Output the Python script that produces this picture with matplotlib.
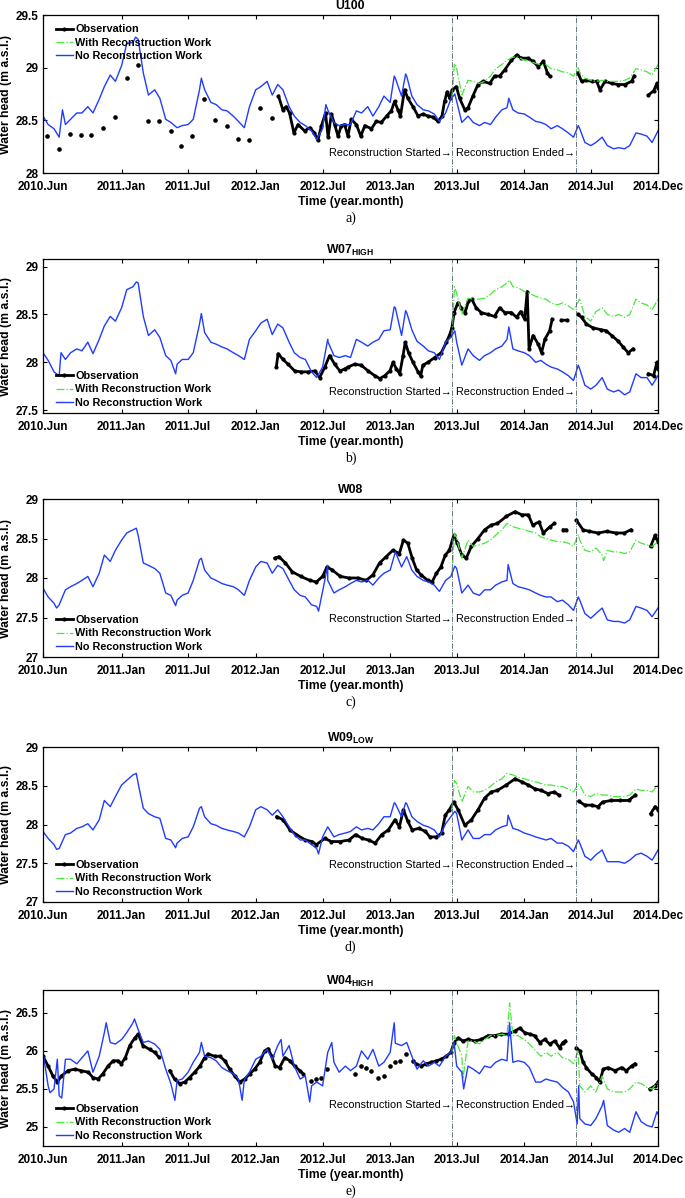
import numpy as np
import pandas as pd
import matplotlib
matplotlib.use("Agg")
import matplotlib.pyplot as plt
from matplotlib.ticker import FormatStrFormatter

plt.rcParams['font.family'] = ['Liberation Sans', 'DejaVu Sans']
plt.rcParams['mathtext.fontset'] = 'custom'
plt.rcParams['mathtext.rm'] = 'Liberation Sans'
plt.rcParams['mathtext.bf'] = 'Liberation Sans:bold'

# ---- time axis ----
t0 = pd.Timestamp("2010-06-01")
grid = pd.date_range("2010-06-01", "2014-12-15", freq="SMS").append(pd.DatetimeIndex(["2014-12-31"]))
green_grid = (pd.DatetimeIndex(["2013-06-18", "2013-06-25"])
              .append(pd.date_range("2013-07-01", "2014-12-15", freq="SMS"))
              .append(pd.DatetimeIndex(["2014-12-31"])))
recon_start = pd.Timestamp("2013-06-18")
recon_end = pd.Timestamp("2014-05-22")
tick_dates = pd.to_datetime(["2010-06-01", "2011-01-01", "2011-07-01", "2012-01-01", "2012-07-01",
                             "2013-01-01", "2013-07-01", "2014-01-01", "2014-07-01", "2014-12-31"])
tick_labels = ["2010.Jun", "2011.Jan", "2011.Jul", "2012.Jan", "2012.Jul",
               "2013.Jan", "2013.Jul", "2014.Jan", "2014.Jul", "2014.Dec"]

# ---- U100 ----
u100_noRW = [28.54, 28.46, 28.42, 28.34, 28.46, 28.51, 28.57, 28.57, 28.63, 28.57, 28.70, 28.82, 28.93, 28.87,
             29.02, 29.23, 29.24, 29.27, 28.95, 28.74, 28.79, 28.71, 28.51, 28.48, 28.43, 28.45, 28.46, 28.51,
             28.79, 28.79, 28.67, 28.65, 28.60, 28.59, 28.54, 28.49, 28.43, 28.63,
             28.79, 28.82, 28.87, 28.74, 28.84, 28.79, 28.63, 28.54, 28.48, 28.45, 28.40, 28.32, 28.42, 28.60,
             28.48, 28.45, 28.46, 28.46, 28.59, 28.57, 28.63, 28.54, 28.63, 28.73,
             28.67, 28.90, 28.73, 28.92, 28.73, 28.65, 28.60, 28.59, 28.56, 28.49, 28.57, 28.70, 28.68, 28.48,
             28.54, 28.48, 28.45, 28.48, 28.46, 28.53, 28.60, 28.62, 28.60, 28.57,
             28.56, 28.53, 28.49, 28.48, 28.46, 28.42, 28.45, 28.42, 28.38, 28.34, 28.42, 28.29, 28.26, 28.29,
             28.34, 28.26, 28.23, 28.24, 28.23, 28.26, 28.38, 28.37, 28.35, 28.29, 28.40]
u100_noRW_spikes = {"2010-07-24": 28.60, "2011-02-08": 29.29, "2011-08-06": 28.90, "2012-07-10": 28.65,
                    "2013-01-12": 28.92, "2013-02-12": 28.94, "2013-06-26": 28.75, "2013-11-20": 28.71,
                    "2014-05-28": 28.45}
u100_RW = [28.71, 29.04, 28.99, 28.74, 28.88, 28.87, 28.85, 28.87, 28.92, 28.99, 29.03, 29.07, 29.10, 29.10,
           29.07, 29.06, 29.04, 29.03, 29.03, 28.99, 28.98, 28.96, 28.95, 28.92, 28.95, 28.90, 28.88, 28.87,
           28.88, 28.87, 28.87, 28.87, 28.88, 28.90, 28.99, 28.98, 28.96, 28.93, 29.03]
u100_RW_spikes = {"2014-05-28": 29.00}
u100_obs_day = [641, 653, 662, 671, 683, 694, 712, 726, 739, 748, 758, 769, 776, 785, 794, 803, 812, 821, 830,
                839, 853, 865, 876, 894, 907, 921, 935, 948, 957, 966, 973, 984, 993, 1007, 1021, 1034, 1048,
                1062, 1075, 1086, 1093, 1100, 1107, 1114, 1125, 1134, 1148, 1157, 1170, 1184, 1198, 1216, 1229,
                1243, 1257, 1275, 1289, 1302, 1320, 1334, 1348, 1362, 1373, 1379, 1400,
                1456, 1466, 1479, 1493, 1507, 1516, 1530, 1548, 1566, 1584, 1602, 1609, 1630,
                1648, 1662, 1671, 1674]
u100_obs = [28.73, 28.60, 28.63, 28.57, 28.38, 28.46, 28.40, 28.43, 28.38, 28.31, 28.45, 28.57, 28.34, 28.56,
            28.46, 28.35, 28.45, 28.46, 28.35, 28.51, 28.46, 28.35, 28.45, 28.42, 28.49, 28.48, 28.54, 28.59,
            28.68, 28.60, 28.54, 28.79, 28.71, 28.63, 28.54, 28.56, 28.54, 28.53, 28.49, 28.54, 28.68, 28.77,
            28.71, 28.79, 28.82, 28.71, 28.60, 28.62, 28.73, 28.84, 28.87, 28.85, 28.92, 28.92, 28.98, 29.07,
            29.12, 29.09, 29.09, 29.06, 29.01, 29.06, 28.95, 28.92, np.nan,
            28.95, 28.87, 28.88, 28.87, 28.87, 28.79, 28.87, 28.85, 28.84, 28.84, 28.87, 28.92, np.nan,
            28.74, 28.78, 28.85, 28.81]
u100_dot_day = [11, 43, 73, 103, 131, 164, 195, 228, 259, 285, 315, 348, 376, 406, 438, 469, 502, 531, 560,
                592, 623]
u100_dot = [28.35, 28.23, 28.37, 28.36, 28.36, 28.43, 28.53, 28.90, 29.03, 28.49, 28.49, 28.40, 28.26, 28.35,
            28.70, 28.50, 28.45, 28.32, 28.31, 28.62, 28.52]

# ---- W07 HIGH ----
w07_noRW = [28.10, 28.02, 27.90, 27.86, 28.03, 28.10, 28.14, 28.12, 28.21, 28.09, 28.24, 28.38, 28.48, 28.43,
            28.57, 28.76, 28.79, 28.83, 28.48, 28.28, 28.34, 28.26, 28.07, 28.02, 27.98, 28.03, 28.03, 28.10,
            28.40, 28.31, 28.21, 28.19, 28.16, 28.14, 28.10, 28.07, 28.03, 28.24,
            28.33, 28.41, 28.45, 28.29, 28.40, 28.36, 28.21, 28.10, 28.05, 28.03, 27.90, 27.84, 27.95, 28.22,
            28.07, 28.05, 28.07, 28.05, 28.24, 28.21, 28.17, 28.21, 28.24, 28.33,
            28.34, 28.57, 28.28, 28.52, 28.34, 28.22, 28.17, 28.12, 28.10, 28.03, 28.21, 28.26, 28.21, 27.97,
            28.14, 28.07, 28.02, 28.07, 28.10, 28.14, 28.17, 28.24, 28.14, 28.12,
            28.10, 28.07, 28.00, 28.02, 27.98, 27.95, 27.93, 27.90, 27.86, 27.81, 27.93, 27.76, 27.72, 27.76,
            27.84, 27.72, 27.69, 27.71, 27.66, 27.69, 27.88, 27.84, 27.84, 27.76, 27.86]
w07_noRW_spikes = {"2010-07-20": 28.10, "2011-02-10": 28.84, "2011-05-28": 27.88, "2011-08-06": 28.51,
                   "2012-07-15": 28.24, "2013-01-12": 28.58, "2013-02-12": 28.54, "2013-06-26": 28.33,
                   "2013-11-20": 28.37, "2014-05-28": 27.97}
w07_RW = [28.26, 28.79, 28.72, 28.50, 28.67, 28.66, 28.66, 28.67, 28.71, 28.76, 28.79, 28.83, 28.79, 28.78,
          28.74, 28.72, 28.69, 28.67, 28.66, 28.62, 28.60, 28.62, 28.59, 28.55, 28.66, 28.48, 28.43, 28.53,
          28.57, 28.50, 28.48, 28.50, 28.47, 28.50, 28.66, 28.62, 28.60, 28.55, 28.66]
w07_RW_spikes = {"2013-11-22": 28.86}
w07_obs_day = [635, 640, 653, 667, 685, 703, 721, 740, 753, 767, 780, 794, 808, 821, 830, 848, 866, 885, 903,
               917, 930, 944, 953, 962, 971, 980, 986, 995, 1007, 1021, 1028, 1034, 1048, 1066, 1084, 1098,
               1107, 1113, 1119, 1129, 1139, 1149, 1158, 1167, 1179, 1193, 1211, 1229, 1243, 1257, 1275, 1289,
               1300, 1311, 1318, 1323, 1334, 1348, 1357, 1366, 1379, 1386, 1398, 1411, 1425, 1440,
               1456, 1466, 1479, 1497, 1520, 1533, 1548, 1566, 1579, 1593, 1606, 1630, 1648, 1662, 1671, 1674]
w07_obs = [27.95, 28.09, 28.03, 27.98, 27.91, 27.90, 27.90, 27.91, 27.84, 27.95, 28.07, 27.98, 27.91, 27.93,
           27.95, 27.98, 27.97, 27.91, 27.86, 27.83, 27.86, 27.91, 28.00, 27.93, 27.88, 28.07, 28.21, 28.10,
           28.00, 27.90, 27.86, 27.97, 28.00, 28.05, 28.10, 28.21, 28.29, 28.36, 28.52, 28.62, 28.57, 28.52,
           28.64, 28.66, 28.57, 28.52, 28.50, 28.48, 28.57, 28.52, 28.52, 28.47, 28.53, 28.45, 28.74, 28.14,
           28.28, 28.19, 28.10, 28.24, 28.33, 28.45, np.nan, 28.44, 28.44, np.nan,
           28.50, 28.47, 28.40, 28.36, 28.34, 28.33, 28.28, 28.22, 28.16, 28.10, 28.14, np.nan,
           27.88, 27.86, 28.00, 27.93]

# ---- W08 ----
w08_noRW = [27.87, 27.76, 27.68, 27.66, 27.85, 27.89, 27.93, 27.97, 28.02, 27.89, 28.06, 28.29, 28.21, 28.35,
            28.48, 28.57, 28.61, 28.54, 28.19, 28.16, 28.12, 28.06, 27.81, 27.78, 27.72, 27.78, 27.81, 27.97,
            28.23, 28.10, 28.00, 27.97, 27.93, 27.91, 27.89, 27.85, 27.78, 27.97,
            28.14, 28.21, 28.19, 28.06, 28.16, 28.12, 27.97, 27.85, 27.78, 27.76, 27.66, 27.64, 27.83, 27.97,
            27.81, 27.85, 27.89, 27.93, 27.97, 27.95, 27.97, 27.91, 28.00, 28.06,
            28.10, 28.33, 28.14, 28.27, 28.10, 28.02, 27.97, 27.95, 27.91, 27.83, 27.97, 28.02, 28.12, 27.81,
            27.91, 27.81, 27.78, 27.85, 27.85, 27.91, 27.95, 27.97, 27.93, 27.89,
            27.87, 27.85, 27.81, 27.78, 27.76, 27.76, 27.70, 27.72, 27.66, 27.59, 27.72, 27.55, 27.49, 27.55,
            27.62, 27.47, 27.45, 27.45, 27.43, 27.47, 27.64, 27.62, 27.59, 27.51, 27.62]
w08_noRW_spikes = {"2010-07-08": 27.62, "2011-02-10": 28.63, "2011-05-28": 27.65, "2011-08-06": 28.25,
                   "2012-06-20": 27.58, "2012-07-15": 28.16, "2013-06-26": 28.15, "2013-11-18": 28.17,
                   "2014-05-28": 27.76}
w08_RW = [28.02, 28.57, 28.50, 28.25, 28.48, 28.40, 28.42, 28.44, 28.48, 28.54, 28.61, 28.69, 28.65, 28.63,
          28.61, 28.59, 28.57, 28.52, 28.50, 28.48, 28.46, 28.46, 28.44, 28.40, 28.48, 28.35, 28.33, 28.38,
          28.29, 28.35, 28.33, 28.33, 28.31, 28.33, 28.48, 28.44, 28.42, 28.40, 28.46]
w08_RW_spikes = {"2014-05-28": 28.55, "2014-08-05": 28.22}
w08_obs_day = [631, 642, 660, 678, 702, 726, 744, 761, 773, 788, 809, 833, 857, 880, 898, 916, 934, 952, 970,
               981, 993, 1005, 1017, 1029, 1047, 1059, 1071, 1083, 1095, 1106, 1118, 1128, 1140, 1152, 1166,
               1184, 1202, 1220, 1237, 1261, 1285, 1303, 1321, 1333, 1350, 1362, 1380, 1392, 1404, 1416, 1424,
               1438, 1452, 1470, 1487, 1511, 1535, 1559, 1582, 1600, 1625, 1654, 1666, 1674]
w08_obs = [28.25, 28.27, 28.19, 28.08, 28.02, 27.97, 27.95, 28.02, 28.14, 28.10, 28.02, 28.00, 28.00, 27.97,
           28.04, 28.19, 28.27, 28.35, 28.31, 28.48, 28.44, 28.25, 28.10, 28.04, 27.97, 27.95, 28.06, 28.14,
           28.29, 28.35, 28.54, 28.44, 28.29, 28.25, 28.40, 28.50, 28.61, 28.67, 28.69, 28.78, 28.84, 28.80,
           28.80, 28.67, 28.71, 28.57, 28.65, 28.69, np.nan, 28.61, 28.61, np.nan,
           28.73, 28.61, 28.59, 28.57, 28.59, 28.57, 28.57, 28.61, np.nan, 28.40, 28.54, 28.46]

# ---- W09 LOW ----
w09_noRW = [27.91, 27.82, 27.74, 27.69, 27.87, 27.89, 27.95, 27.97, 28.01, 27.93, 28.06, 28.31, 28.23, 28.36,
            28.51, 28.57, 28.64, 28.53, 28.21, 28.14, 28.10, 28.08, 27.82, 27.80, 27.76, 27.82, 27.84, 27.97,
            28.21, 28.10, 28.01, 27.99, 27.95, 27.93, 27.91, 27.89, 27.84, 27.97,
            28.19, 28.23, 28.19, 28.12, 28.19, 28.10, 27.97, 27.87, 27.80, 27.80, 27.74, 27.69, 27.84, 27.97,
            27.84, 27.87, 27.89, 27.91, 27.97, 27.93, 27.95, 27.93, 28.01, 28.10,
            28.10, 28.27, 28.10, 28.27, 28.10, 28.04, 27.99, 27.97, 27.93, 27.84, 28.01, 28.10, 28.14, 27.80,
            27.93, 27.82, 27.82, 27.87, 27.87, 27.93, 27.97, 27.99, 27.95, 27.93,
            27.89, 27.87, 27.84, 27.82, 27.80, 27.82, 27.76, 27.76, 27.72, 27.65, 27.76, 27.59, 27.54, 27.61,
            27.67, 27.52, 27.52, 27.52, 27.50, 27.54, 27.61, 27.63, 27.59, 27.54, 27.67]
w09_noRW_spikes = {"2010-07-08": 27.68, "2011-02-10": 28.66, "2011-05-28": 27.70, "2011-08-06": 28.23,
                   "2012-06-20": 27.62, "2013-01-12": 28.28, "2013-02-12": 28.28, "2013-06-26": 28.17,
                   "2013-11-18": 28.12, "2014-05-28": 27.80}
w09_RW = [28.19, 28.57, 28.53, 28.29, 28.49, 28.42, 28.42, 28.44, 28.49, 28.55, 28.59, 28.66, 28.64, 28.61,
          28.59, 28.57, 28.55, 28.53, 28.51, 28.51, 28.49, 28.49, 28.46, 28.42, 28.51, 28.38, 28.36, 28.40,
          28.38, 28.38, 28.36, 28.36, 28.36, 28.38, 28.46, 28.44, 28.44, 28.42, 28.51]
w09_RW_spikes = {"2014-05-28": 28.52}
w09_obs_day = [636, 654, 672, 690, 714, 732, 744, 767, 785, 809, 833, 851, 869, 886, 904, 922, 940, 958, 970,
               981, 993, 1005, 1023, 1041, 1053, 1071, 1085, 1095, 1106, 1118, 1130, 1148, 1166, 1184, 1202,
               1220, 1237, 1261, 1285, 1303, 1321, 1339, 1356, 1374, 1392, 1404, 1430,
               1458, 1475, 1493, 1511, 1523, 1547, 1571, 1594, 1612, 1630, 1654, 1666, 1674]
w09_obs = [28.10, 28.06, 27.93, 27.87, 27.80, 27.78, 27.74, 27.82, 27.78, 27.78, 27.80, 27.87, 27.82, 27.80,
           27.76, 27.87, 27.93, 28.06, 27.97, 28.19, 28.04, 27.93, 27.95, 27.91, 27.84, 27.84, 27.89, 28.12,
           28.19, 28.29, 28.19, 27.99, 28.06, 28.19, 28.34, 28.42, 28.44, 28.51, 28.59, 28.55, 28.51, 28.46,
           28.44, 28.40, 28.42, 28.38, np.nan,
           28.30, 28.25, 28.25, 28.23, 28.29, 28.31, 28.31, 28.31, 28.38, np.nan, 28.14, 28.23, 28.19]

# ---- W04 HIGH ----
w04_noRW = [25.98, 25.54, 25.50, 25.41, 25.89, 25.89, 25.83, 25.91, 26.00, 25.72, 25.93, 26.24, 26.11, 26.09,
            26.15, 26.24, 26.37, 26.28, 26.11, 26.13, 26.09, 26.02, 25.76, 25.57, 25.61, 25.63, 25.72, 25.85,
            25.98, 25.93, 25.91, 25.87, 25.78, 25.74, 25.70, 25.63, 25.62, 25.72,
            25.89, 25.93, 26.02, 25.89, 26.07, 25.93, 26.07, 25.80, 25.63, 25.67, 25.54, 25.59, 25.54, 25.98,
            25.85, 25.72, 25.80, 25.74, 25.80, 26.00, 25.89, 26.02, 25.80, 25.85,
            25.98, 26.10, 26.07, 26.11, 25.93, 25.76, 25.87, 25.80, 25.85, 25.80, 25.93, 25.98, 25.80, 25.72,
            25.80, 25.76, 25.70, 25.80, 25.78, 25.85, 25.89, 25.87, 25.85, 25.87,
            25.85, 25.78, 25.59, 25.59, 25.63, 25.61, 25.59, 25.52, 25.46, 25.33, 25.11, 25.04, 25.02, 25.11,
            25.28, 25.02, 24.96, 24.93, 24.98, 24.93, 25.20, 25.07, 25.02, 25.00, 25.17]
w04_noRW_spikes = {"2010-06-20": 25.45, "2010-07-10": 25.89, "2010-07-22": 25.38, "2010-11-20": 26.37,
                   "2011-02-05": 26.42, "2011-05-26": 25.35, "2011-08-06": 26.11, "2011-11-25": 25.35,
                   "2012-03-10": 26.15, "2012-05-27": 25.33, "2012-07-26": 26.11, "2013-01-12": 26.37,
                   "2013-06-24": 26.11, "2013-07-20": 25.50, "2013-11-22": 26.37, "2014-05-25": 25.04,
                   "2014-05-29": 25.54, "2014-08-05": 25.35, "2014-12-28": 25.20}
w04_RW = [25.98, 26.20, 26.11, 25.93, 26.13, 26.13, 26.09, 26.15, 26.20, 26.20, 26.22, 26.20, 26.20, 26.20,
          26.15, 26.09, 26.00, 25.93, 25.98, 25.93, 25.98, 25.91, 25.89, 25.83, 25.54, 25.46, 25.54, 25.46,
          25.67, 25.50, 25.46, 25.46, 25.46, 25.50, 25.59, 25.57, 25.52, 25.50, 25.59]
w04_RW_spikes = {"2013-07-18": 25.63, "2013-11-22": 26.63, "2014-05-27": 26.00}
w04_obs_day = [0, 14, 27, 39, 50, 68, 86, 104, 123, 136, 150, 163, 177, 191, 204, 213, 224, 236, 250, 259, 272,
               290, 304, 315, 330, 345, 358, 372, 386, 399, 413, 427, 440, 449, 467, 481, 495, 508, 522, 535,
               549, 563, 576, 590, 603, 613, 622, 632, 644, 658, 672, 685, 699, 708, 718,
               1016, 1030, 1043, 1057, 1071, 1084, 1098, 1110, 1119, 1130, 1143, 1157, 1175, 1193, 1211, 1229,
               1247, 1266, 1284, 1298, 1311, 1325, 1338, 1352, 1366, 1379, 1393, 1406, 1415, 1422, 1440,
               1452, 1461, 1470, 1479, 1493, 1506, 1515, 1525, 1538, 1557, 1575, 1588, 1602, 1611, 1630,
               1652, 1666, 1674]
w04_obs = [25.93, 25.80, 25.67, 25.59, 25.67, 25.74, 25.76, 25.74, 25.72, 25.65, 25.63, 25.70, 25.80, 25.87,
           25.87, 25.83, 25.91, 26.07, 26.17, 26.22, 26.07, 26.02, 25.98, 25.92, np.nan,
           25.74, 25.63, 25.57, 25.59, 25.65, 25.72, 25.80, 25.91, 25.96, 25.93, 25.93, 25.87, 25.76, 25.67,
           25.59, 25.63, 25.70, 25.76, 25.85, 26.00, 26.03, 25.93, 25.80, 25.78, 25.91, 25.87, 25.80, 25.74,
           25.70, np.nan,
           25.83, 25.80, 25.83, 25.85, 25.87, 25.89, 25.93, 25.98, 26.11, 26.17, 26.13, 26.15, 26.13, 26.15,
           26.20, 26.20, 26.22, 26.22, 26.26, 26.30, 26.24, 26.22, 26.20, 26.11, 26.15, 26.09, 26.13, 26.04,
           26.11, 26.13, np.nan,
           26.04, 26.00, 25.85, 25.78, 25.70, 25.65, 25.59, 25.76, 25.78, 25.74, 25.78, 25.74, 25.80, 25.83,
           np.nan, 25.50, 25.54, 25.59]
w04_dot_day = [730, 744, 758, 774, 848, 866, 880, 894, 912, 928, 944, 957, 971, 989, 1007]
w04_dot = [25.61, 25.63, 25.65, 25.76, 25.70, 25.80, 25.77, 25.74, 25.65, 25.67, 25.80, 25.85, 25.87, 25.96,
           25.87]

panels = [
    dict(title="U100", noRW=u100_noRW, noRW_sp=u100_noRW_spikes, RW=u100_RW, RW_sp=u100_RW_spikes,
         obs_day=u100_obs_day, obs=u100_obs, dot_day=u100_dot_day, dot=u100_dot,
         ylim=(28, 29.5), yticks=[28, 28.5, 29, 29.5], leg="upper left", txt_y=0.125, letter="a)",
         top=15, bottom=173),
    dict(title=r"W07$_{\mathbf{HIGH}}$", noRW=w07_noRW, noRW_sp=w07_noRW_spikes, RW=w07_RW, RW_sp=w07_RW_spikes,
         obs_day=w07_obs_day, obs=w07_obs, dot_day=[], dot=[],
         ylim=(27.47, 29.08), yticks=[27.5, 28, 28.5, 29], leg="lower left", txt_y=0.135, letter="b)",
         top=259, bottom=413),
    dict(title="W08", noRW=w08_noRW, noRW_sp=w08_noRW_spikes, RW=w08_RW, RW_sp=w08_RW_spikes,
         obs_day=w08_obs_day, obs=w08_obs, dot_day=[], dot=[],
         ylim=(27, 29), yticks=[27, 27.5, 28, 28.5, 29], leg="lower left", txt_y=0.24, letter="c)",
         top=499, bottom=657),
    dict(title=r"W09$_{\mathbf{LOW}}$", noRW=w09_noRW, noRW_sp=w09_noRW_spikes, RW=w09_RW, RW_sp=w09_RW_spikes,
         obs_day=w09_obs_day, obs=w09_obs, dot_day=[], dot=[],
         ylim=(27, 29), yticks=[27, 27.5, 28, 28.5, 29], leg="lower left", txt_y=0.24, letter="d)",
         top=747, bottom=902),
    dict(title=r"W04$_{\mathbf{HIGH}}$", noRW=w04_noRW, noRW_sp=w04_noRW_spikes, RW=w04_RW, RW_sp=w04_RW_spikes,
         obs_day=w04_obs_day, obs=w04_obs, dot_day=w04_dot_day, dot=w04_dot,
         ylim=(24.75, 26.8), yticks=[25, 25.5, 26, 26.5], leg="lower left", txt_y=0.26, letter="e)",
         top=990, bottom=1146),
]

BLUE = "#1f3cff"
GREEN = "#46e83a"


def with_spikes(index, values, spikes):
    s = pd.Series(values, index=index)
    if spikes:
        extra = pd.Series(list(spikes.values()), index=pd.to_datetime(list(spikes.keys())))
        s = pd.concat([s, extra]).sort_index()
    return s


W, H = 685, 1198
fig = plt.figure(figsize=(W / 100, H / 100), dpi=100)
left_px, right_px = 43, 658

for p in panels:
    ax = fig.add_axes([left_px / W, 1 - p["bottom"] / H, (right_px - left_px) / W,
                       (p["bottom"] - p["top"]) / H])

    obs_t = t0 + pd.to_timedelta(p["obs_day"], unit="D")
    l_obs, = ax.plot(obs_t, p["obs"], color="k", lw=2.0, marker=".", ms=4, label="Observation")
    if p["dot_day"]:
        dot_t = t0 + pd.to_timedelta(p["dot_day"], unit="D")
        ax.plot(dot_t, p["dot"], ls="none", color="k", marker="o", ms=2.3)

    rw = with_spikes(green_grid, p["RW"], p["RW_sp"])
    l_rw, = ax.plot(rw.index, rw.values, color=GREEN, lw=0.9, ls="-.", label="With Reconstruction Work")
    nrw = with_spikes(grid, p["noRW"], p["noRW_sp"])
    l_nrw, = ax.plot(nrw.index, nrw.values, color=BLUE, lw=1.0, label="No Reconstruction Work")

    for d in (recon_start, recon_end):
        ax.axvline(d, color="#50606a", lw=0.6, ls="-.")
    y_txt = p["ylim"][0] + p["txt_y"] * (p["ylim"][1] - p["ylim"][0])
    ax.text(recon_start - pd.Timedelta(days=2), y_txt, "Reconstruction Started\u2192", ha="right",
            va="center", fontsize=7.8, family=["Liberation Sans", "DejaVu Sans"])
    ax.text(recon_end - pd.Timedelta(days=2), y_txt, "Reconstruction Ended\u2192", ha="right",
            va="center", fontsize=7.8, family=["Liberation Sans", "DejaVu Sans"])

    ax.set_xlim(t0, pd.Timestamp("2014-12-31"))
    ax.set_ylim(*p["ylim"])
    ax.set_xticks(tick_dates)
    ax.set_xticklabels(tick_labels)
    ax.set_yticks(p["yticks"])
    ax.yaxis.set_major_formatter(FormatStrFormatter("%g"))
    ax.tick_params(direction="in", top=True, right=True, length=3, width=0.8, labelsize=8.5, pad=3)
    ax.tick_params(axis="x", pad=6)
    for lab in ax.get_xticklabels() + ax.get_yticklabels():
        lab.set_fontweight("bold")
    for sp in ax.spines.values():
        sp.set_linewidth(0.9)

    ax.set_title(p["title"], fontsize=8.8, fontweight="bold", pad=4)
    ax.set_xlabel("Time (year.month)", fontsize=8.8, fontweight="bold", labelpad=2)
    ax.set_ylabel("Water head (m a.s.l.)", fontsize=8.8, fontweight="bold", labelpad=3)
    ax.annotate(p["letter"], xy=(0.5, 0), xycoords="axes fraction", xytext=(0, -45),
                textcoords="offset pixels", ha="center", va="center", fontsize=10,
                family=["Liberation Serif", "DejaVu Serif"])

    anchor = (0.012, 0.975) if p["leg"] == "upper left" else (0.012, 0.0)
    ax.legend(handles=[l_obs, l_rw, l_nrw], loc=p["leg"], bbox_to_anchor=anchor, frameon=False,
              numpoints=1, prop=dict(size=7.8, weight="bold"), handlelength=1.6, handletextpad=0.2,
              labelspacing=0.3, borderaxespad=0.3, borderpad=0.2)

fig.savefig("out.png", dpi=100)
